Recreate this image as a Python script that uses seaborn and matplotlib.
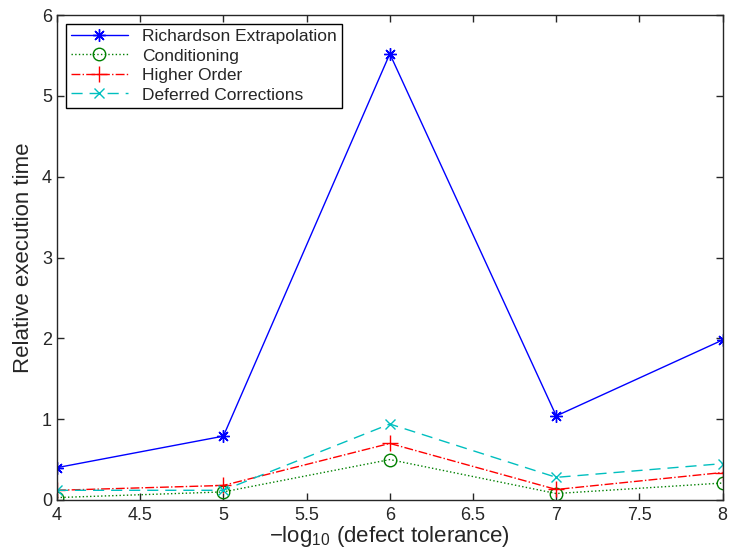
import pandas as pd
import matplotlib
matplotlib.use("Agg")
import matplotlib.pyplot as plt
import matplotlib.ticker as mticker
import seaborn as sns

# Values
tolerance = [4, 5, 6, 7, 8]
richardson = [0.40, 0.79, 5.52, 1.04, 1.98]
conditioning = [0.03, 0.10, 0.50, 0.08, 0.21]
higher_order = [0.12, 0.18, 0.70, 0.13, 0.34]
deferred = [0.12, 0.12, 0.94, 0.28, 0.45]

sns.set_style("ticks")
plt.rcParams["font.family"] = ["Liberation Sans", "DejaVu Sans"]
plt.rcParams["mathtext.fontset"] = "custom"
plt.rcParams["mathtext.rm"] = "Liberation Sans"
plt.rcParams["xtick.direction"] = "in"
plt.rcParams["ytick.direction"] = "in"

fig = plt.figure(figsize=(7.3, 5.48), dpi=100)
ax = fig.add_axes([0.078, 0.0876, 0.912, 0.885])

series = [
    ("Richardson Extrapolation", richardson, "#0000ff", "-", (8, 2, 0), 9),
    ("Conditioning", conditioning, "#008000", ":", "o", 9),
    ("Higher Order", higher_order, "#ff0000", "-.", "+", 11),
    ("Deferred Corrections", deferred, "#00bfbf", (0, (8, 5)), "x", 7),
]

for name, vals, color, ls, mk, ms in series:
    df = pd.DataFrame({"tol": tolerance, "time": vals})
    sns.lineplot(data=df, x="tol", y="time", ax=ax, color=color, linestyle=ls,
                 marker=mk, markersize=ms, markerfacecolor="none",
                 markeredgecolor=color, markeredgewidth=1, linewidth=1,
                 label=name)

ax.set_xlim(4, 8)
ax.set_ylim(0, 6)
ax.set_xticks([4, 4.5, 5, 5.5, 6, 6.5, 7, 7.5, 8])
ax.set_yticks([0, 1, 2, 3, 4, 5, 6])
ax.xaxis.set_major_formatter(mticker.FormatStrFormatter("%g"))
ax.yaxis.set_major_formatter(mticker.FormatStrFormatter("%g"))
ax.tick_params(top=True, right=True, labelsize=13, length=5, width=1)
ax.tick_params(axis="x", pad=5)
for s in ax.spines.values():
    s.set_linewidth(1)
ax.set_xlabel(r"$-$log$_{10}$ (defect tolerance)", fontsize=16, labelpad=0)
ax.set_ylabel("Relative execution time", fontsize=16, labelpad=6)
ax.legend(loc="upper left", fontsize=12.5, frameon=True, fancybox=False,
          edgecolor="black", framealpha=1, handlelength=3.3,
          borderaxespad=0.5, labelspacing=0.25, borderpad=0.3)

fig.savefig("out.png", dpi=100)
